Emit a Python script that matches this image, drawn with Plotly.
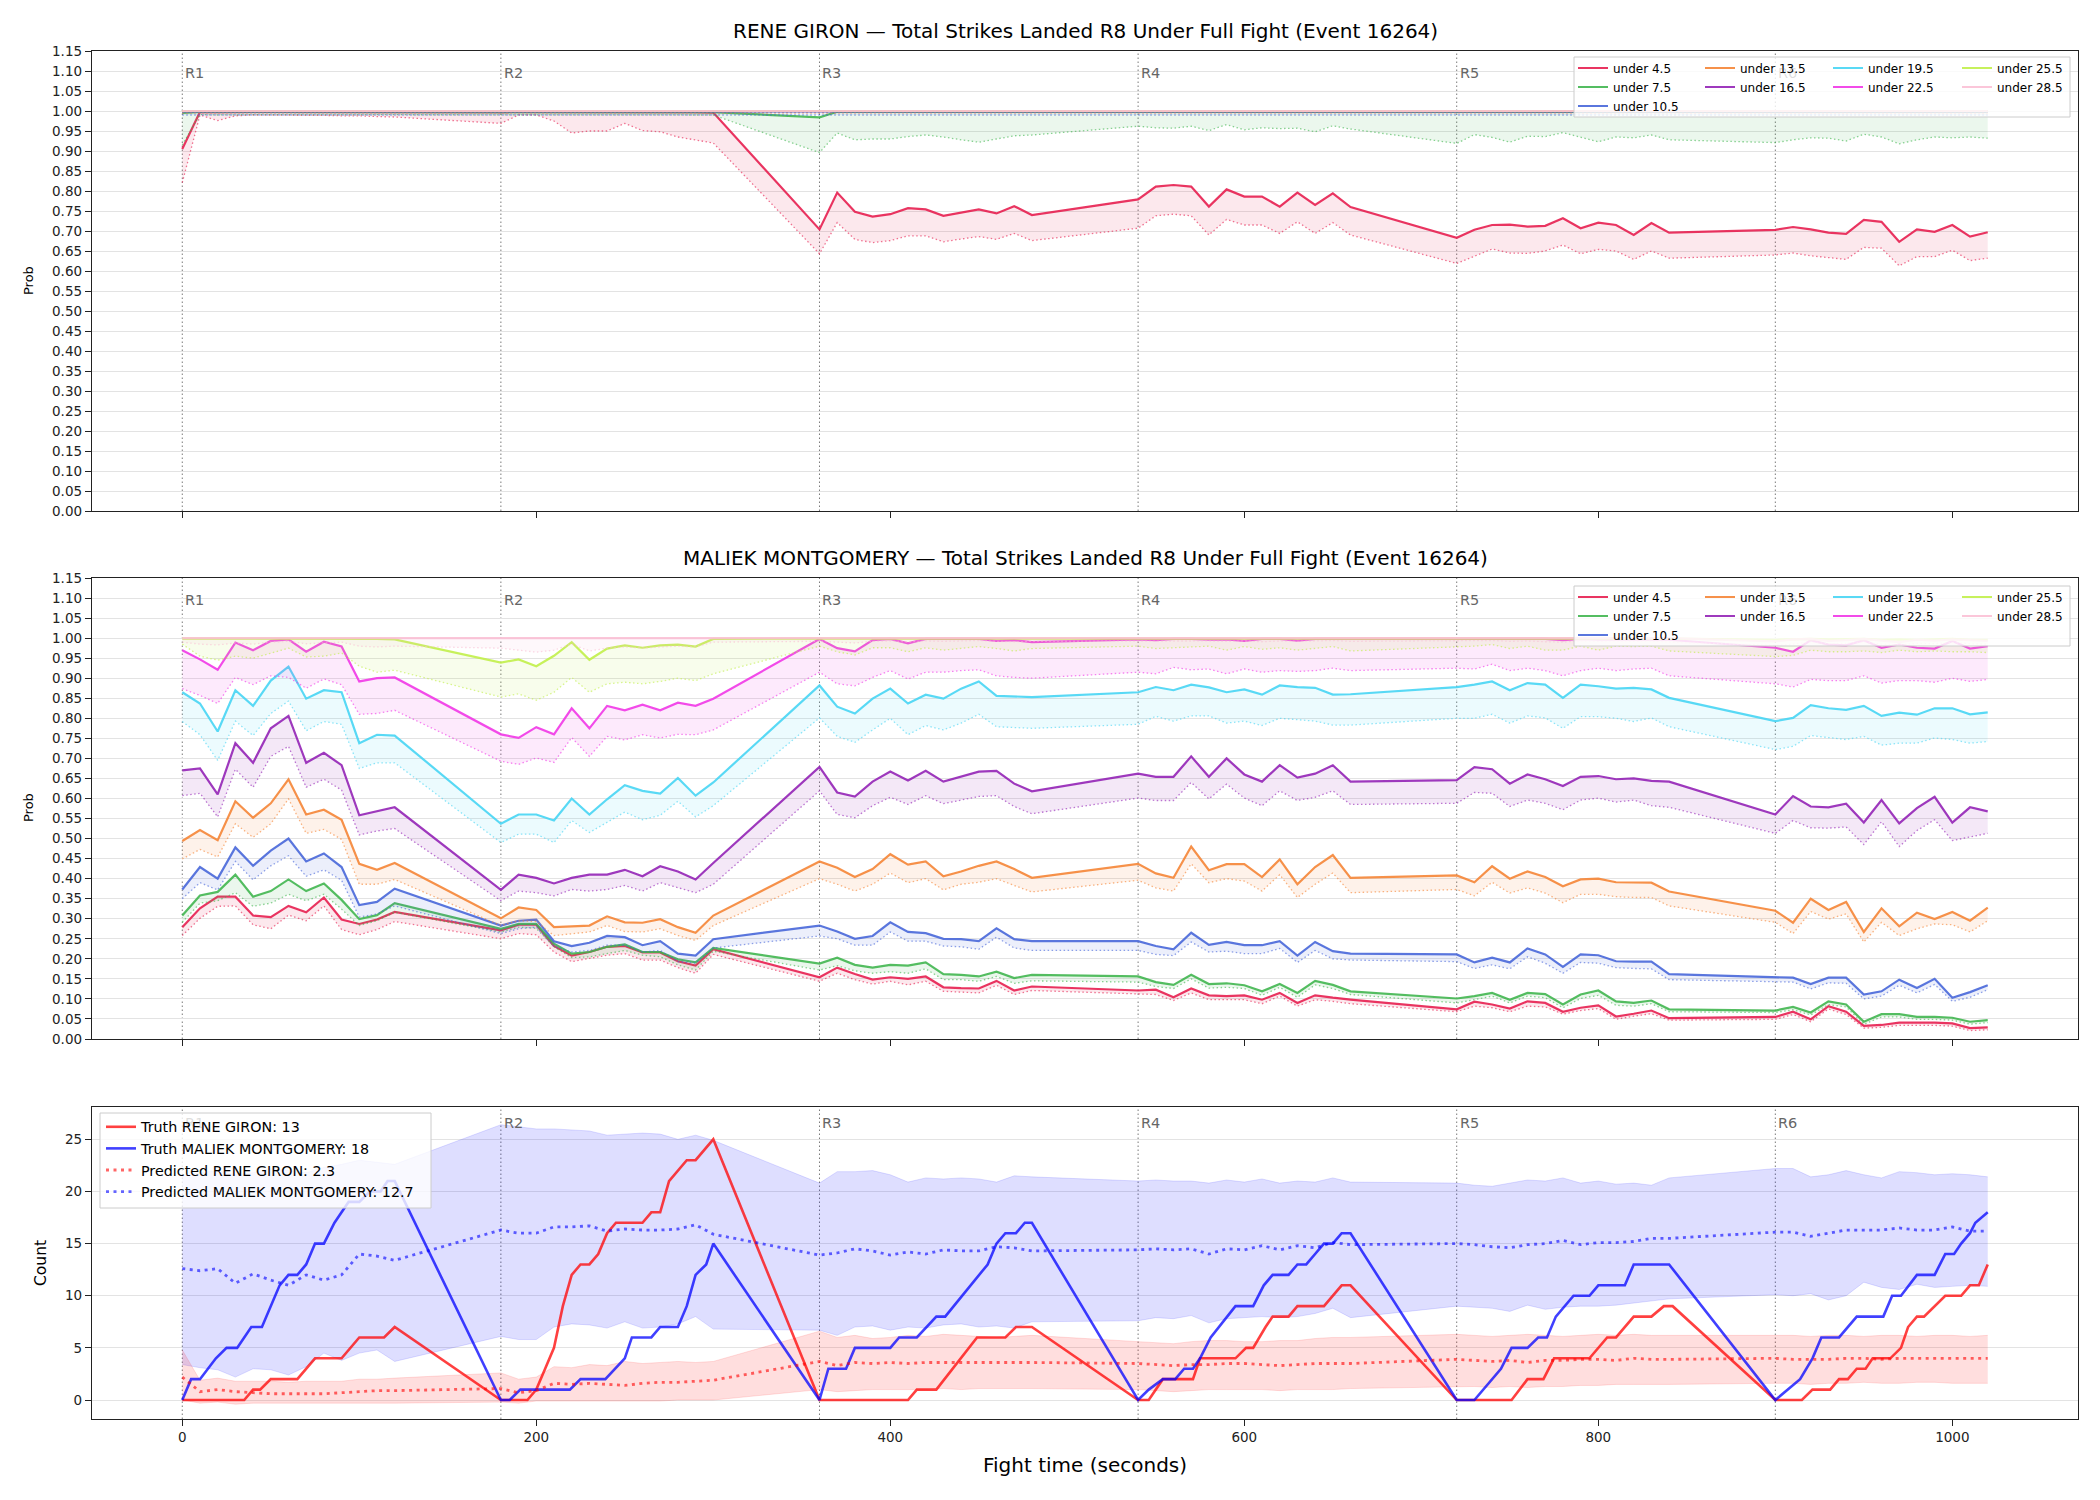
import plotly.graph_objects as go
from plotly.subplots import make_subplots

# ------------------------------------------------------------------ data
TIME = [0, 10, 20, 30, 40, 50, 60, 70, 80, 90, 100, 110, 120,
        180, 190, 200, 210, 220, 230, 240, 250, 260, 270, 280, 290, 300,
        360, 370, 380, 390, 400, 410, 420, 430, 440, 450, 460, 470, 480,
        540, 550, 560, 570, 580, 590, 600, 610, 620, 630, 640, 650, 660,
        720, 730, 740, 750, 760, 770, 780, 790, 800, 810, 820, 830, 840,
        900, 910, 920, 930, 940, 950, 960, 970, 980, 990, 1000, 1010, 1020]
TIME_COARSE = [0, 120, 180, 300, 360, 480, 540, 660, 720, 840, 900, 1020]

ROUND_STARTS = [0, 180, 360, 540, 720, 900]
ROUND_LABELS = ["R1", "R2", "R3", "R4", "R5", "R6"]
LINE_LABELS = ["under 4.5", "under 7.5", "under 10.5", "under 13.5", "under 16.5",
               "under 19.5", "under 22.5", "under 25.5", "under 28.5"]
PROB_TICKS = [0.00, 0.05, 0.10, 0.15, 0.20, 0.25, 0.30, 0.35, 0.40, 0.45, 0.50, 0.55,
              0.60, 0.65, 0.70, 0.75, 0.80, 0.85, 0.90, 0.95, 1.00, 1.05, 1.10, 1.15]
COUNT_TICKS = [0, 5, 10, 15, 20, 25]
X_TICKS = [0, 200, 400, 600, 800, 1000]

# ---- RENE GIRON (top panel): model prob (solid) and lower (dotted)
giron_u45 = [0.905, 0.998, 0.997, 0.998, 0.998, 0.998, 0.998, 0.998, 0.998, 0.998, 0.997, 0.997, 0.997,
             0.997, 0.997, 0.997, 0.997, 0.997, 0.997, 0.997, 0.997, 0.997, 0.997, 0.997, 0.997, 0.996,
             0.704, 0.796, 0.748, 0.736, 0.742, 0.757, 0.754, 0.738, 0.746, 0.754, 0.744, 0.762, 0.740,
             0.779, 0.811, 0.815, 0.811, 0.761, 0.804, 0.786, 0.786, 0.761, 0.796, 0.765, 0.794, 0.760,
             0.683, 0.703, 0.715, 0.716, 0.711, 0.713, 0.732, 0.707, 0.721, 0.715, 0.690, 0.720, 0.696,
             0.703, 0.710, 0.704, 0.696, 0.693, 0.728, 0.723, 0.673, 0.704, 0.698, 0.715, 0.686, 0.697]
giron_u45_lo = [0.821, 0.990, 0.976, 0.988, 0.990, 0.990, 0.990, 0.990, 0.989, 0.988, 0.988, 0.986, 0.985,
                0.969, 0.990, 0.990, 0.975, 0.945, 0.950, 0.950, 0.969, 0.951, 0.948, 0.935, 0.928, 0.920,
                0.643, 0.721, 0.679, 0.671, 0.676, 0.688, 0.688, 0.673, 0.680, 0.686, 0.679, 0.694, 0.676,
                0.707, 0.738, 0.742, 0.738, 0.690, 0.729, 0.715, 0.715, 0.694, 0.723, 0.694, 0.721, 0.690,
                0.619, 0.638, 0.655, 0.645, 0.644, 0.650, 0.665, 0.643, 0.654, 0.650, 0.629, 0.650, 0.632,
                0.640, 0.645, 0.638, 0.634, 0.629, 0.659, 0.657, 0.613, 0.636, 0.636, 0.652, 0.626, 0.632]
giron_u75 = [0.995, 0.998, 0.998, 0.998, 0.998, 0.998, 0.998, 0.998, 0.998, 0.998, 0.998, 0.998, 0.998,
             0.998, 0.998, 0.998, 0.998, 0.998, 0.998, 0.998, 0.998, 0.998, 0.998, 0.998, 0.998, 0.997,
             0.984, 0.998, 0.998, 0.998, 0.998, 0.998, 0.998, 0.998, 0.998, 0.998, 0.998, 0.998, 0.998,
             0.998, 0.998, 0.998, 0.998, 0.998, 0.998, 0.998, 0.998, 0.998, 0.998, 0.998, 0.998, 0.998,
             0.998, 0.998, 0.998, 0.998, 0.998, 0.998, 0.998, 0.998, 0.998, 0.998, 0.998, 0.998, 0.998,
             0.998, 0.998, 0.998, 0.998, 0.998, 0.998, 0.998, 0.998, 0.998, 0.998, 0.998, 0.998, 0.998]
giron_u75_lo = [0.915, 0.991, 0.990, 0.991, 0.991, 0.991, 0.991, 0.991, 0.991, 0.990, 0.990, 0.990, 0.990,
                0.990, 0.991, 0.991, 0.990, 0.990, 0.990, 0.990, 0.990, 0.990, 0.990, 0.990, 0.990, 0.990,
                0.896, 0.945, 0.928, 0.930, 0.930, 0.936, 0.940, 0.935, 0.928, 0.922, 0.930, 0.938, 0.940,
                0.962, 0.958, 0.957, 0.962, 0.951, 0.966, 0.953, 0.958, 0.956, 0.957, 0.948, 0.963, 0.955,
                0.919, 0.941, 0.934, 0.922, 0.937, 0.936, 0.946, 0.935, 0.923, 0.935, 0.933, 0.940, 0.928,
                0.921, 0.928, 0.933, 0.932, 0.925, 0.942, 0.935, 0.918, 0.928, 0.935, 0.933, 0.935, 0.932]
giron_u105 = [0.999, 0.999, 0.999, 0.999, 0.999, 0.999, 0.999, 0.999, 0.999, 0.999, 0.999, 0.999]
giron_u105_lo = [0.990, 0.990, 0.989, 0.990, 0.990, 0.990, 0.990, 0.990, 0.989, 0.990, 0.990, 0.990]
giron_u135 = [1.000, 1.000, 1.000, 1.000, 1.000, 1.000, 1.000, 1.000, 1.000, 1.000, 1.000, 1.000]
giron_u135_lo = [0.995, 0.995, 0.995, 0.995, 0.995, 0.995, 0.995, 0.995, 0.995, 0.995, 0.995, 0.995]
giron_u165 = [1.000, 1.000, 1.000, 1.000, 1.000, 1.000, 1.000, 1.000, 1.000, 1.000, 1.000, 1.000]
giron_u165_lo = [0.997, 0.997, 0.997, 0.997, 0.997, 0.997, 0.997, 0.997, 0.997, 0.997, 0.997, 0.997]
giron_u195 = [1.000, 1.000, 1.000, 1.000, 1.000, 1.000, 1.000, 1.000, 1.000, 1.000, 1.000, 1.000]
giron_u195_lo = [0.998, 0.998, 0.998, 0.998, 0.998, 0.998, 0.998, 0.998, 0.998, 0.998, 0.998, 0.998]
giron_u225 = [1.000, 1.000, 1.000, 1.000, 1.000, 1.000, 1.000, 1.000, 1.000, 1.000, 1.000, 1.000]
giron_u225_lo = [0.999, 0.999, 0.999, 0.999, 0.999, 0.999, 0.999, 0.999, 0.999, 0.999, 0.999, 0.999]
giron_u255 = [1.000, 1.000, 1.000, 1.000, 1.000, 1.000, 1.000, 1.000, 1.000, 1.000, 1.000, 1.000]
giron_u255_lo = [0.999, 0.999, 0.999, 0.999, 0.999, 0.999, 0.999, 0.999, 0.999, 0.999, 0.999, 0.999]
giron_u285 = [1.000, 1.000, 1.000, 1.000, 1.000, 1.000, 1.000, 1.000, 1.000, 1.000, 1.000, 1.000]
giron_u285_lo = [1.000, 1.000, 1.000, 1.000, 1.000, 1.000, 1.000, 1.000, 1.000, 1.000, 1.000, 1.000]

# ---- MALIEK MONTGOMERY (middle panel)
mont_u45 = [0.279, 0.326, 0.355, 0.355, 0.308, 0.304, 0.332, 0.316, 0.353, 0.298, 0.287, 0.298, 0.317,
            0.271, 0.285, 0.285, 0.232, 0.208, 0.217, 0.230, 0.232, 0.216, 0.216, 0.194, 0.183, 0.224,
            0.154, 0.178, 0.162, 0.148, 0.154, 0.150, 0.156, 0.129, 0.127, 0.126, 0.145, 0.121, 0.131,
            0.121, 0.123, 0.104, 0.126, 0.109, 0.107, 0.109, 0.098, 0.115, 0.090, 0.109, 0.103, 0.098,
            0.074, 0.093, 0.086, 0.076, 0.094, 0.090, 0.068, 0.078, 0.084, 0.056, 0.063, 0.071, 0.052,
            0.055, 0.068, 0.049, 0.082, 0.068, 0.033, 0.035, 0.041, 0.041, 0.041, 0.039, 0.027, 0.029]
mont_u45_lo = [0.258, 0.301, 0.331, 0.332, 0.285, 0.275, 0.309, 0.295, 0.332, 0.273, 0.260, 0.273, 0.293,
               0.250, 0.263, 0.260, 0.217, 0.193, 0.201, 0.209, 0.213, 0.197, 0.197, 0.178, 0.164, 0.211,
               0.144, 0.164, 0.148, 0.137, 0.144, 0.135, 0.144, 0.119, 0.117, 0.115, 0.134, 0.111, 0.121,
               0.111, 0.111, 0.096, 0.115, 0.098, 0.098, 0.098, 0.088, 0.107, 0.082, 0.098, 0.094, 0.088,
               0.068, 0.082, 0.078, 0.068, 0.082, 0.080, 0.062, 0.071, 0.076, 0.049, 0.057, 0.063, 0.047,
               0.049, 0.061, 0.043, 0.075, 0.061, 0.027, 0.029, 0.034, 0.034, 0.034, 0.032, 0.021, 0.023]
mont_u75 = [0.308, 0.358, 0.367, 0.410, 0.355, 0.369, 0.398, 0.369, 0.388, 0.347, 0.299, 0.309, 0.339,
            0.275, 0.287, 0.287, 0.238, 0.213, 0.217, 0.230, 0.236, 0.217, 0.217, 0.199, 0.191, 0.227,
            0.188, 0.203, 0.185, 0.178, 0.185, 0.183, 0.191, 0.162, 0.160, 0.156, 0.168, 0.152, 0.160,
            0.156, 0.142, 0.135, 0.160, 0.137, 0.139, 0.134, 0.119, 0.137, 0.115, 0.145, 0.135, 0.119,
            0.101, 0.107, 0.115, 0.098, 0.115, 0.112, 0.086, 0.111, 0.121, 0.094, 0.090, 0.096, 0.074,
            0.071, 0.080, 0.066, 0.094, 0.086, 0.043, 0.062, 0.062, 0.055, 0.055, 0.053, 0.043, 0.047]
mont_u75_lo = [0.291, 0.339, 0.345, 0.365, 0.331, 0.339, 0.361, 0.345, 0.361, 0.324, 0.283, 0.295, 0.316,
               0.267, 0.279, 0.276, 0.230, 0.203, 0.205, 0.213, 0.221, 0.209, 0.205, 0.185, 0.172, 0.219,
               0.172, 0.183, 0.170, 0.164, 0.168, 0.164, 0.175, 0.148, 0.148, 0.144, 0.156, 0.139, 0.145,
               0.142, 0.131, 0.126, 0.150, 0.127, 0.129, 0.126, 0.109, 0.129, 0.104, 0.135, 0.126, 0.111,
               0.090, 0.098, 0.107, 0.090, 0.107, 0.103, 0.078, 0.101, 0.109, 0.084, 0.082, 0.088, 0.068,
               0.066, 0.073, 0.060, 0.086, 0.080, 0.037, 0.055, 0.055, 0.049, 0.049, 0.047, 0.037, 0.041]
mont_u105 = [0.373, 0.429, 0.400, 0.478, 0.432, 0.470, 0.500, 0.443, 0.463, 0.429, 0.334, 0.342, 0.375,
             0.283, 0.295, 0.298, 0.244, 0.232, 0.240, 0.257, 0.254, 0.234, 0.244, 0.213, 0.208, 0.249,
             0.283, 0.268, 0.250, 0.257, 0.291, 0.267, 0.264, 0.250, 0.249, 0.244, 0.276, 0.249, 0.244,
             0.244, 0.232, 0.224, 0.265, 0.235, 0.242, 0.234, 0.234, 0.244, 0.208, 0.242, 0.219, 0.213,
             0.211, 0.191, 0.203, 0.191, 0.226, 0.211, 0.180, 0.211, 0.209, 0.194, 0.193, 0.193, 0.162,
             0.153, 0.153, 0.137, 0.153, 0.153, 0.111, 0.119, 0.148, 0.127, 0.150, 0.103, 0.117, 0.134]
mont_u105_lo = [0.350, 0.390, 0.372, 0.443, 0.397, 0.432, 0.457, 0.406, 0.422, 0.396, 0.304, 0.312, 0.332,
                0.263, 0.275, 0.279, 0.230, 0.217, 0.221, 0.234, 0.234, 0.217, 0.221, 0.193, 0.189, 0.227,
                0.257, 0.250, 0.234, 0.234, 0.267, 0.244, 0.244, 0.232, 0.230, 0.224, 0.254, 0.227, 0.221,
                0.221, 0.211, 0.208, 0.242, 0.217, 0.219, 0.213, 0.213, 0.226, 0.191, 0.221, 0.200, 0.197,
                0.193, 0.176, 0.185, 0.175, 0.205, 0.189, 0.164, 0.191, 0.189, 0.178, 0.176, 0.175, 0.148,
                0.144, 0.142, 0.125, 0.140, 0.139, 0.100, 0.107, 0.134, 0.115, 0.136, 0.094, 0.104, 0.123]
mont_u135 = [0.494, 0.521, 0.496, 0.593, 0.552, 0.588, 0.648, 0.560, 0.572, 0.547, 0.437, 0.422, 0.439,
             0.301, 0.328, 0.322, 0.279, 0.281, 0.283, 0.306, 0.291, 0.290, 0.299, 0.279, 0.265, 0.308,
             0.443, 0.427, 0.404, 0.424, 0.461, 0.435, 0.443, 0.406, 0.418, 0.432, 0.443, 0.424, 0.402,
             0.437, 0.413, 0.402, 0.480, 0.421, 0.436, 0.436, 0.404, 0.448, 0.386, 0.429, 0.459, 0.402,
             0.408, 0.391, 0.431, 0.400, 0.418, 0.404, 0.381, 0.398, 0.400, 0.391, 0.390, 0.390, 0.368,
             0.320, 0.290, 0.350, 0.322, 0.342, 0.267, 0.326, 0.281, 0.315, 0.299, 0.317, 0.295, 0.328]
mont_u135_lo = [0.449, 0.473, 0.454, 0.537, 0.503, 0.537, 0.599, 0.513, 0.523, 0.498, 0.386, 0.386, 0.398,
                0.283, 0.295, 0.293, 0.258, 0.263, 0.267, 0.283, 0.268, 0.267, 0.275, 0.258, 0.246, 0.283,
                0.400, 0.386, 0.369, 0.386, 0.414, 0.390, 0.400, 0.372, 0.386, 0.391, 0.400, 0.383, 0.367,
                0.396, 0.377, 0.369, 0.437, 0.390, 0.400, 0.394, 0.369, 0.410, 0.353, 0.386, 0.414, 0.365,
                0.373, 0.357, 0.391, 0.364, 0.377, 0.364, 0.340, 0.361, 0.361, 0.355, 0.353, 0.353, 0.332,
                0.291, 0.263, 0.318, 0.299, 0.312, 0.242, 0.291, 0.258, 0.275, 0.287, 0.285, 0.267, 0.295]
mont_u165 = [0.670, 0.675, 0.610, 0.738, 0.689, 0.775, 0.806, 0.689, 0.714, 0.683, 0.558, 0.568, 0.578,
             0.372, 0.410, 0.402, 0.388, 0.402, 0.410, 0.410, 0.422, 0.406, 0.431, 0.418, 0.398, 0.439,
             0.679, 0.615, 0.605, 0.642, 0.667, 0.645, 0.669, 0.642, 0.654, 0.667, 0.669, 0.637, 0.618,
             0.662, 0.654, 0.654, 0.705, 0.654, 0.700, 0.660, 0.642, 0.683, 0.652, 0.662, 0.683, 0.642,
             0.646, 0.678, 0.673, 0.637, 0.660, 0.648, 0.631, 0.654, 0.656, 0.648, 0.650, 0.644, 0.642,
             0.560, 0.606, 0.580, 0.578, 0.587, 0.540, 0.596, 0.538, 0.576, 0.604, 0.540, 0.578, 0.568]
mont_u165_lo = [0.607, 0.613, 0.554, 0.673, 0.628, 0.705, 0.730, 0.628, 0.648, 0.621, 0.509, 0.519, 0.525,
                0.345, 0.369, 0.365, 0.357, 0.373, 0.369, 0.373, 0.383, 0.369, 0.390, 0.377, 0.365, 0.386,
                0.619, 0.560, 0.552, 0.582, 0.603, 0.585, 0.607, 0.587, 0.596, 0.605, 0.607, 0.580, 0.562,
                0.601, 0.595, 0.595, 0.640, 0.599, 0.636, 0.601, 0.582, 0.619, 0.595, 0.603, 0.619, 0.585,
                0.588, 0.615, 0.613, 0.580, 0.596, 0.588, 0.572, 0.596, 0.601, 0.591, 0.596, 0.582, 0.578,
                0.513, 0.545, 0.527, 0.526, 0.529, 0.485, 0.542, 0.480, 0.520, 0.547, 0.495, 0.504, 0.513]
mont_u195 = [0.865, 0.837, 0.767, 0.870, 0.831, 0.894, 0.929, 0.849, 0.870, 0.865, 0.738, 0.759, 0.757,
             0.537, 0.560, 0.560, 0.545, 0.600, 0.560, 0.598, 0.633, 0.619, 0.612, 0.651, 0.607, 0.640,
             0.882, 0.829, 0.812, 0.849, 0.874, 0.837, 0.859, 0.849, 0.874, 0.892, 0.856, 0.855, 0.853,
             0.865, 0.878, 0.870, 0.884, 0.877, 0.865, 0.872, 0.859, 0.882, 0.878, 0.876, 0.859, 0.860,
             0.878, 0.884, 0.892, 0.870, 0.888, 0.884, 0.851, 0.884, 0.880, 0.874, 0.876, 0.872, 0.851,
             0.793, 0.801, 0.833, 0.825, 0.821, 0.831, 0.806, 0.814, 0.809, 0.825, 0.825, 0.810, 0.815]
mont_u195_lo = [0.792, 0.759, 0.695, 0.793, 0.757, 0.812, 0.843, 0.769, 0.792, 0.785, 0.675, 0.689, 0.689,
                0.490, 0.511, 0.511, 0.490, 0.545, 0.515, 0.541, 0.566, 0.547, 0.558, 0.593, 0.554, 0.582,
                0.801, 0.755, 0.740, 0.771, 0.800, 0.759, 0.782, 0.771, 0.788, 0.810, 0.779, 0.777, 0.775,
                0.785, 0.805, 0.793, 0.806, 0.806, 0.788, 0.793, 0.782, 0.800, 0.796, 0.793, 0.783, 0.783,
                0.800, 0.800, 0.810, 0.788, 0.806, 0.801, 0.775, 0.804, 0.804, 0.800, 0.792, 0.801, 0.779,
                0.722, 0.730, 0.757, 0.752, 0.747, 0.755, 0.733, 0.738, 0.738, 0.751, 0.747, 0.738, 0.742]
mont_u225 = [0.970, 0.947, 0.921, 0.989, 0.970, 0.993, 0.997, 0.966, 0.991, 0.979, 0.892, 0.900, 0.902,
             0.760, 0.751, 0.778, 0.760, 0.825, 0.775, 0.831, 0.820, 0.834, 0.820, 0.839, 0.831, 0.849,
             0.998, 0.975, 0.967, 0.995, 0.998, 0.987, 0.998, 0.998, 0.998, 0.998, 0.993, 0.995, 0.990,
             0.997, 0.995, 0.998, 0.998, 0.996, 0.997, 0.993, 0.998, 0.998, 0.994, 0.998, 0.998, 0.998,
             0.998, 0.998, 0.997, 0.998, 0.998, 0.998, 0.995, 0.998, 0.997, 0.997, 0.997, 0.997, 0.996,
             0.976, 0.966, 0.995, 0.984, 0.982, 0.995, 0.976, 0.984, 0.976, 0.974, 0.993, 0.974, 0.980]
mont_u225_lo = [0.874, 0.857, 0.837, 0.902, 0.884, 0.906, 0.902, 0.875, 0.898, 0.884, 0.810, 0.812, 0.820,
                0.693, 0.685, 0.701, 0.690, 0.752, 0.705, 0.755, 0.746, 0.759, 0.751, 0.760, 0.759, 0.771,
                0.915, 0.886, 0.881, 0.902, 0.919, 0.898, 0.915, 0.915, 0.919, 0.921, 0.906, 0.902, 0.900,
                0.915, 0.911, 0.927, 0.921, 0.923, 0.911, 0.923, 0.915, 0.919, 0.917, 0.919, 0.925, 0.919,
                0.925, 0.923, 0.935, 0.919, 0.925, 0.919, 0.906, 0.919, 0.925, 0.919, 0.923, 0.925, 0.906,
                0.886, 0.878, 0.897, 0.894, 0.894, 0.906, 0.888, 0.894, 0.894, 0.890, 0.900, 0.892, 0.897]
mont_u255 = [0.999, 0.999, 0.999, 0.999, 0.999, 0.999, 0.999, 0.999, 0.999, 0.999, 0.999, 0.998, 0.997,
             0.939, 0.947, 0.930, 0.956, 0.990, 0.946, 0.974, 0.982, 0.976, 0.982, 0.984, 0.979, 0.998,
             0.999, 0.999, 0.999, 0.999, 0.999, 0.999, 0.999, 0.999, 0.999, 0.999, 0.999, 0.999, 0.999,
             0.999, 0.999, 0.999, 0.999, 0.999, 0.999, 0.999, 0.999, 0.999, 0.999, 0.999, 0.999, 0.999,
             0.999, 0.999, 0.999, 0.999, 0.999, 0.999, 0.999, 0.999, 0.999, 0.999, 0.999, 0.999, 0.999,
             0.996, 0.997, 0.998, 0.997, 0.997, 0.998, 0.996, 0.997, 0.996, 0.997, 0.998, 0.996, 0.996]
mont_u255_lo = [0.985, 0.955, 0.945, 0.955, 0.950, 0.963, 0.975, 0.953, 0.955, 0.963, 0.930, 0.915, 0.920,
                0.853, 0.861, 0.845, 0.865, 0.902, 0.865, 0.886, 0.890, 0.886, 0.892, 0.900, 0.894, 0.911,
                0.980, 0.966, 0.958, 0.976, 0.976, 0.966, 0.976, 0.970, 0.974, 0.979, 0.974, 0.968, 0.974,
                0.980, 0.974, 0.976, 0.979, 0.980, 0.970, 0.979, 0.972, 0.976, 0.970, 0.974, 0.979, 0.968,
                0.979, 0.980, 0.984, 0.974, 0.980, 0.970, 0.970, 0.980, 0.970, 0.980, 0.979, 0.980, 0.968,
                0.954, 0.957, 0.970, 0.966, 0.966, 0.968, 0.964, 0.970, 0.966, 0.968, 0.966, 0.966, 0.964]
mont_u285 = [1.000, 1.000, 1.000, 1.000, 1.000, 1.000, 1.000, 1.000, 1.000, 1.000, 1.000, 1.000, 1.000,
             1.000, 1.000, 1.000, 1.000, 1.000, 1.000, 1.000, 1.000, 1.000, 1.000, 1.000, 1.000, 1.000,
             1.000, 1.000, 1.000, 1.000, 1.000, 1.000, 1.000, 1.000, 1.000, 1.000, 1.000, 1.000, 1.000,
             1.000, 1.000, 1.000, 1.000, 1.000, 1.000, 1.000, 1.000, 1.000, 1.000, 1.000, 1.000, 1.000,
             1.000, 1.000, 1.000, 1.000, 1.000, 1.000, 1.000, 1.000, 1.000, 1.000, 1.000, 1.000, 1.000,
             0.992, 0.997, 0.998, 0.993, 0.995, 0.998, 0.994, 0.990, 0.996, 0.994, 0.997, 0.995, 0.993]
mont_u285_lo = [0.990, 0.985, 0.983, 0.988, 0.985, 0.990, 0.992, 0.986, 0.988, 0.990, 0.980, 0.978, 0.980,
                0.975, 0.970, 0.965, 0.970, 0.985, 0.968, 0.975, 0.978, 0.975, 0.978, 0.980, 0.978, 0.990,
                0.992, 0.990, 0.988, 0.992, 0.993, 0.990, 0.993, 0.992, 0.993, 0.994, 0.992, 0.991, 0.992,
                0.993, 0.992, 0.993, 0.994, 0.993, 0.992, 0.993, 0.991, 0.993, 0.992, 0.993, 0.994, 0.992,
                0.993, 0.992, 0.994, 0.992, 0.993, 0.991, 0.990, 0.993, 0.992, 0.993, 0.992, 0.993, 0.990,
                0.982, 0.985, 0.990, 0.986, 0.987, 0.990, 0.985, 0.983, 0.987, 0.986, 0.989, 0.986, 0.985]

# ---- bottom panel: truth counts (breakpoints) and predictions
truth_giron_t = [0, 35, 40, 44, 50, 65, 75, 90, 100, 114, 120,
                 180, 195, 200, 205, 210, 215, 220, 225, 230, 235, 240, 245, 260, 265, 270, 275, 280, 285, 290, 300,
                 360, 410, 415, 426, 449, 465, 471, 480,
                 540, 546, 554, 571, 575, 595, 601, 605, 612, 616, 625, 630, 645, 655, 660,
                 720, 751, 760, 769, 775, 795, 805, 810, 820, 830, 837, 842,
                 900, 915, 921, 931, 936, 941, 946, 951, 955, 965, 971, 975, 980, 984, 990, 996, 1005, 1010, 1015, 1020]
truth_giron_v = [0, 0, 1, 1, 2, 2, 4, 4, 6, 6, 7,
                 0, 0, 1, 3, 5, 9, 12, 13, 13, 14, 16, 17, 17, 18, 18, 21, 22, 23, 23, 25,
                 0, 0, 1, 1, 6, 6, 7, 7,
                 0, 0, 2, 2, 4, 4, 5, 5, 7, 8, 8, 9, 9, 11, 11,
                 0, 0, 2, 2, 4, 4, 6, 6, 8, 8, 9, 9,
                 0, 0, 1, 1, 2, 2, 3, 3, 4, 4, 5, 7, 8, 8, 9, 10, 10, 11, 11, 13]
truth_mont_t = [0, 5, 10, 19, 25, 31, 39, 45, 55, 60, 65, 70, 75, 80, 86, 94, 100, 106, 112, 116, 120,
                180, 185, 191, 219, 225, 239, 250, 254, 265, 270, 280, 285, 290, 296, 300,
                360, 365, 375, 380, 400, 405, 415, 426, 431, 455, 460, 465, 471, 476, 480,
                540, 546, 554, 561, 566, 571, 575, 581, 595, 605, 611, 616, 625, 630, 635, 640, 645, 650, 655, 660,
                720, 730, 745, 751, 760, 766, 771, 776, 786, 795, 800, 815, 820, 840,
                900, 914, 921, 926, 936, 946, 961, 966, 971, 980, 990, 996, 1001, 1005, 1010, 1013, 1020]
truth_mont_v = [0, 2, 2, 4, 5, 5, 7, 7, 11, 12, 12, 13, 15, 15, 17, 19, 19, 20, 20, 21, 21,
                0, 0, 1, 1, 2, 2, 4, 6, 6, 7, 7, 9, 12, 13, 15,
                0, 3, 3, 5, 5, 6, 6, 8, 8, 13, 15, 16, 16, 17, 17,
                0, 1, 2, 2, 3, 3, 4, 6, 9, 9, 11, 12, 12, 13, 13, 14, 15, 15, 16, 16,
                0, 0, 3, 5, 5, 6, 6, 8, 10, 10, 11, 11, 13, 13,
                0, 2, 4, 6, 6, 8, 8, 10, 10, 12, 12, 14, 14, 15, 16, 17, 18]

pred_giron = [2.2, 0.8, 1.0, 0.8, 0.7, 0.6, 0.6, 0.6, 0.6, 0.7, 0.8, 0.9, 0.9,
              1.1, 0.7, 0.9, 1.6, 1.5, 1.6, 1.5, 1.4, 1.6, 1.7, 1.7, 1.8, 1.9,
              3.7, 3.3, 3.6, 3.5, 3.6, 3.5, 3.6, 3.6, 3.6, 3.6, 3.6, 3.6, 3.6,
              3.5, 3.4, 3.3, 3.4, 3.4, 3.5, 3.5, 3.4, 3.3, 3.4, 3.5, 3.5, 3.5,
              3.9, 3.8, 3.7, 3.8, 3.6, 3.8, 3.8, 3.9, 3.9, 3.8, 4.0, 3.9, 3.9,
              4.0, 3.9, 3.9, 3.9, 4.0, 4.0, 3.9, 4.0, 4.0, 4.0, 4.0, 4.0, 4.0]
pred_giron_hi = [4.8, 1.9, 2.1, 1.8, 1.8, 1.8, 1.7, 1.8, 1.8, 1.8, 2.0, 2.0, 2.1,
                 2.6, 2.0, 2.2, 3.2, 3.1, 3.4, 3.3, 3.7, 3.5, 3.6, 3.7, 3.6, 3.7,
                 6.6, 6.0, 6.2, 5.9, 6.0, 6.2, 6.1, 6.3, 6.2, 6.1, 6.0, 6.1, 6.2,
                 5.6, 5.5, 5.4, 5.6, 5.7, 5.7, 5.6, 5.6, 5.7, 5.7, 5.9, 6.0, 6.0,
                 6.3, 6.2, 6.1, 6.2, 6.3, 6.2, 6.1, 6.2, 6.3, 6.2, 6.3, 6.2, 6.2,
                 6.2, 6.2, 6.1, 6.2, 6.2, 6.1, 6.2, 6.2, 6.1, 6.2, 6.2, 6.1, 6.2]
pred_giron_lo = [0.0, -0.3, -0.2, -0.4, -0.3, -0.3, -0.3, -0.3, -0.3, -0.3, -0.3, -0.3, -0.3,
                 -0.2, -0.3, -0.1, -0.1, -0.1, -0.1, -0.1, -0.1, -0.1, -0.1, 0.0, 0.0, 0.0,
                 1.0, 0.8, 0.9, 1.0, 1.0, 1.0, 1.0, 1.1, 1.0, 1.1, 1.1, 1.1, 1.1,
                 1.0, 0.9, 0.8, 0.9, 1.0, 1.0, 1.0, 1.0, 0.9, 1.0, 1.0, 1.0, 1.1,
                 1.3, 1.3, 1.2, 1.3, 1.2, 1.3, 1.3, 1.4, 1.4, 1.5, 1.5, 1.5, 1.5,
                 1.6, 1.6, 1.5, 1.6, 1.6, 1.7, 1.6, 1.6, 1.7, 1.7, 1.6, 1.6, 1.6]
pred_mont = [12.6, 12.4, 12.6, 11.2, 12.1, 11.5, 11.0, 12.0, 11.5, 12.0, 14.0, 13.8, 13.4,
             16.3, 16.0, 16.0, 16.6, 16.6, 16.7, 16.2, 16.4, 16.3, 16.3, 16.4, 16.8, 15.9,
             13.9, 14.1, 14.5, 14.3, 13.9, 14.2, 14.0, 14.4, 14.3, 14.3, 14.7, 14.6, 14.3,
             14.4, 14.5, 14.4, 14.5, 14.0, 14.5, 14.4, 14.8, 14.4, 14.8, 14.6, 15.1, 14.9,
             15.0, 14.9, 14.7, 14.6, 14.9, 15.0, 15.3, 14.9, 15.1, 15.1, 15.2, 15.5, 15.5,
             16.1, 16.1, 15.7, 16.0, 16.3, 16.3, 16.3, 16.5, 16.3, 16.3, 16.6, 16.2, 16.2]
pred_mont_hi = [21.5, 21.8, 22.0, 21.6, 21.8, 22.2, 22.0, 21.8, 22.3, 22.6, 23.0, 22.8, 22.6,
                26.4, 26.2, 26.0, 26.0, 25.9, 25.8, 25.4, 25.5, 25.6, 25.5, 25.0, 25.4, 24.9,
                20.8, 21.9, 21.9, 22.0, 21.6, 20.9, 21.3, 21.2, 21.3, 21.2, 20.9, 21.5, 21.4,
                21.0, 21.1, 21.0, 21.0, 20.8, 21.1, 20.9, 21.2, 20.8, 21.0, 20.9, 21.3, 20.9,
                20.8, 20.6, 20.5, 20.8, 21.1, 21.0, 21.3, 20.8, 21.0, 20.7, 20.8, 20.6, 21.3,
                22.2, 22.2, 21.4, 21.6, 22.0, 21.6, 21.3, 21.9, 21.8, 21.6, 21.7, 21.6, 21.4]
pred_mont_lo = [3.4, 3.1, 2.9, 2.2, 3.0, 2.9, 2.4, 3.2, 4.5, 3.8, 4.5, 4.8, 3.7,
                6.1, 5.8, 5.8, 7.0, 7.3, 7.2, 6.9, 7.5, 6.9, 7.0, 7.3, 8.0, 6.8,
                6.7, 6.2, 7.0, 7.1, 6.7, 7.0, 6.9, 7.2, 7.3, 7.0, 7.1, 6.9, 7.5,
                7.6, 7.9, 7.8, 8.1, 7.4, 7.8, 7.9, 8.0, 7.9, 8.0, 8.3, 8.8, 7.9,
                9.0, 8.9, 8.8, 8.5, 9.1, 8.7, 8.9, 9.0, 9.0, 9.1, 9.3, 9.5, 9.7,
                10.1, 10.0, 10.2, 9.6, 10.0, 11.3, 10.8, 10.6, 11.1, 10.8, 10.9, 11.0, 10.9]

# ------------------------------------------------------------------ styling
COLORS = [(230, 25, 75), (60, 180, 75), (67, 99, 216), (245, 130, 49), (145, 30, 180),
          (66, 212, 244), (240, 50, 230), (191, 239, 69), (250, 190, 212)]
FONT = "DejaVu Sans"
W, H = 2100, 1500
ML, MR, MT, MB = 92, 22, 51, 81
PW, PH = W - ML - MR, H - MT - MB


def rgba(c, a):
    return "rgba(%d,%d,%d,%s)" % (c[0], c[1], c[2], a)


def pxx(px):
    return (px - ML) / PW


def pxy(py):
    return (H - MB - py) / PH


fig = make_subplots(rows=3, cols=1, shared_xaxes=True, vertical_spacing=0.03)

giron_series = [
    (TIME, giron_u45, giron_u45_lo), (TIME, giron_u75, giron_u75_lo),
    (TIME_COARSE, giron_u105, giron_u105_lo), (TIME_COARSE, giron_u135, giron_u135_lo),
    (TIME_COARSE, giron_u165, giron_u165_lo), (TIME_COARSE, giron_u195, giron_u195_lo),
    (TIME_COARSE, giron_u225, giron_u225_lo), (TIME_COARSE, giron_u255, giron_u255_lo),
    (TIME_COARSE, giron_u285, giron_u285_lo)]
mont_series = [
    (TIME, mont_u45, mont_u45_lo), (TIME, mont_u75, mont_u75_lo), (TIME, mont_u105, mont_u105_lo),
    (TIME, mont_u135, mont_u135_lo), (TIME, mont_u165, mont_u165_lo), (TIME, mont_u195, mont_u195_lo),
    (TIME, mont_u225, mont_u225_lo), (TIME, mont_u255, mont_u255_lo), (TIME, mont_u285, mont_u285_lo)]

COL_OF = [0, 0, 0, 1, 1, 2, 2, 3, 3]


def add_prob_panel(row, series, legend_ids):
    for i, (xs, hi, lo) in enumerate(series):
        c = COLORS[i]
        fig.add_trace(go.Scatter(x=xs, y=hi, mode="lines", name=LINE_LABELS[i],
                                 line=dict(color=rgba(c, 0.88), width=2.2),
                                 legend=legend_ids[COL_OF[i]], legendrank=i + 1,
                                 hoverinfo="skip"),
                      row=row, col=1)
        fig.add_trace(go.Scatter(x=xs, y=lo, mode="lines", showlegend=False,
                                 line=dict(color=rgba(c, 0.6), width=1.3, dash="1.5px,2.5px"),
                                 fill="tonexty", fillcolor=rgba(c, 0.1), hoverinfo="skip"),
                      row=row, col=1)


add_prob_panel(1, giron_series, ["legend", "legend2", "legend3", "legend4"])
add_prob_panel(2, mont_series, ["legend5", "legend6", "legend7", "legend8"])

BLUE = (0, 0, 255)
RED = (255, 0, 0)
# bands
fig.add_trace(go.Scatter(x=TIME, y=pred_mont_hi, mode="lines", showlegend=False, hoverinfo="skip",
                         line=dict(color=rgba(BLUE, 0.12), width=1)), row=3, col=1)
fig.add_trace(go.Scatter(x=TIME, y=pred_mont_lo, mode="lines", showlegend=False, hoverinfo="skip",
                         line=dict(color=rgba(BLUE, 0.12), width=1),
                         fill="tonexty", fillcolor=rgba(BLUE, 0.13)), row=3, col=1)
fig.add_trace(go.Scatter(x=TIME, y=pred_giron_hi, mode="lines", showlegend=False, hoverinfo="skip",
                         line=dict(color=rgba(RED, 0.12), width=1)), row=3, col=1)
fig.add_trace(go.Scatter(x=TIME, y=pred_giron_lo, mode="lines", showlegend=False, hoverinfo="skip",
                         line=dict(color=rgba(RED, 0.12), width=1),
                         fill="tonexty", fillcolor=rgba(RED, 0.13)), row=3, col=1)
# truth
fig.add_trace(go.Scatter(x=truth_giron_t, y=truth_giron_v, mode="lines",
                         name="Truth RENE GIRON: 13", legend="legend9", legendrank=1,
                         line=dict(color=rgba(RED, 0.75), width=2.6), hoverinfo="skip"), row=3, col=1)
fig.add_trace(go.Scatter(x=truth_mont_t, y=truth_mont_v, mode="lines",
                         name="Truth MALIEK MONTGOMERY: 18", legend="legend9", legendrank=2,
                         line=dict(color=rgba(BLUE, 0.75), width=2.6), hoverinfo="skip"), row=3, col=1)
# predictions
fig.add_trace(go.Scatter(x=TIME, y=pred_giron, mode="lines",
                         name="Predicted RENE GIRON: 2.3", legend="legend9", legendrank=3,
                         line=dict(color=rgba(RED, 0.6), width=2.8, dash="3px,4.5px"),
                         hoverinfo="skip"), row=3, col=1)
fig.add_trace(go.Scatter(x=TIME, y=pred_mont, mode="lines",
                         name="Predicted MALIEK MONTGOMERY: 12.7", legend="legend9", legendrank=4,
                         line=dict(color=rgba(BLUE, 0.6), width=2.8, dash="3px,4.5px"),
                         hoverinfo="skip"), row=3, col=1)

# ------------------------------------------------------------------ axes
DOMAINS = {1: [pxy(511), pxy(51)], 2: [pxy(1039), pxy(578)], 3: [pxy(1419), pxy(1107)]}
axis_common = dict(showline=True, linecolor="#222222", linewidth=1.4, mirror=True,
                   ticks="outside", ticklen=6, tickwidth=1.3, tickcolor="#222222",
                   zeroline=False, tickfont=dict(family=FONT, size=13.5, color="#222222"))
for r in (1, 2, 3):
    fig.update_xaxes(range=[-51, 1071], tickvals=X_TICKS, showgrid=False,
                     showticklabels=(r == 3), row=r, col=1, **axis_common)
    if r < 3:
        fig.update_yaxes(range=[0, 1.15], tickvals=PROB_TICKS, tickformat=".2f",
                         showgrid=True, gridcolor="#e3e3e3", gridwidth=1,
                         domain=DOMAINS[r], row=r, col=1, **axis_common)
    else:
        fig.update_yaxes(range=[-1.82, 28.1], tickvals=COUNT_TICKS,
                         showgrid=True, gridcolor="#e3e3e3", gridwidth=1,
                         domain=DOMAINS[r], row=r, col=1, **axis_common)

# ------------------------------------------------------------------ round markers
shapes = []
annotations = []
yrefs = {1: "y", 2: "y2", 3: "y3"}
for r in (1, 2, 3):
    for k, rs in enumerate(ROUND_STARTS):
        shapes.append(dict(type="line", xref="x" if r == 1 else "x%d" % r,
                           yref=yrefs[r] + " domain", x0=rs, x1=rs, y0=0, y1=1,
                           line=dict(color="#7a7a7a", width=1, dash="1.5px,2.5px"), layer="below"))
        hidden = (r < 3 and k == 5) or (r == 3 and k == 0)
        annotations.append(dict(x=rs, y=(1.095 if r < 3 else 26.6), xref="x" if r == 1 else "x%d" % r,
                                yref=yrefs[r], text=ROUND_LABELS[k], showarrow=False,
                                xanchor="left", yanchor="middle", xshift=1,
                                font=dict(family=FONT, size=14.5,
                                          color="rgba(100,100,100,0.22)" if hidden else "#666666")))

# legend boxes
for (x0, x1, y0, y1) in [(1574, 2070, 117, 57), (1574, 2070, 646, 586), (100, 431, 1208, 1113)]:
    shapes.append(dict(type="rect", xref="paper", yref="paper",
                       x0=pxx(x0), x1=pxx(x1), y0=pxy(y0), y1=pxy(y1),
                       fillcolor="rgba(255,255,255,0.8)", line=dict(color="#cccccc", width=1),
                       layer="above"))

# titles and axis labels
annotations += [
    dict(text="RENE GIRON — Total Strikes Landed R8 Under Full Fight (Event 16264)",
         x=0.5, y=pxy(31), xref="paper", yref="paper", showarrow=False,
         xanchor="center", yanchor="middle", font=dict(family=FONT, size=20, color="#000000")),
    dict(text="MALIEK MONTGOMERY — Total Strikes Landed R8 Under Full Fight (Event 16264)",
         x=0.5, y=pxy(558), xref="paper", yref="paper", showarrow=False,
         xanchor="center", yanchor="middle", font=dict(family=FONT, size=20, color="#000000")),
    dict(text="Fight time (seconds)", x=0.5, y=pxy(1465), xref="paper", yref="paper",
         showarrow=False, xanchor="center", yanchor="middle",
         font=dict(family=FONT, size=20, color="#000000")),
    dict(text="Prob", x=pxx(28), y=pxy(281), xref="paper", yref="paper", textangle=-90,
         showarrow=False, xanchor="center", yanchor="middle",
         font=dict(family=FONT, size=13, color="#000000")),
    dict(text="Prob", x=pxx(28), y=pxy(808), xref="paper", yref="paper", textangle=-90,
         showarrow=False, xanchor="center", yanchor="middle",
         font=dict(family=FONT, size=13, color="#000000")),
    dict(text="Count", x=pxx(41), y=pxy(1263), xref="paper", yref="paper", textangle=-90,
         showarrow=False, xanchor="center", yanchor="middle",
         font=dict(family=FONT, size=15.5, color="#000000")),
]

legend_common = dict(bgcolor="rgba(0,0,0,0)", borderwidth=0, xanchor="left", yanchor="top",
                     orientation="v", tracegroupgap=0, traceorder="normal",
                     font=dict(family=FONT, size=12, color="#000000"))
col_px = [1573, 1700, 1828, 1957]
legend_layout = {}
for j in range(4):
    legend_layout["legend" if j == 0 else "legend%d" % (j + 1)] = dict(
        x=pxx(col_px[j]), y=pxy(53.5), **legend_common)
    legend_layout["legend%d" % (j + 5)] = dict(x=pxx(col_px[j]), y=pxy(582.5), **legend_common)
legend_layout["legend9"] = dict(bgcolor="rgba(0,0,0,0)", borderwidth=0, xanchor="left", yanchor="top",
                                orientation="v", traceorder="normal", tracegroupgap=0,
                                x=pxx(101), y=pxy(1111),
                                font=dict(family=FONT, size=14.3, color="#000000"))

fig.update_layout(width=W, height=H, margin=dict(l=ML, r=MR, t=MT, b=MB),
                  paper_bgcolor="white", plot_bgcolor="white",
                  font=dict(family=FONT, size=13, color="#000000"),
                  shapes=shapes, annotations=annotations, showlegend=True,
                  **legend_layout)

fig.write_html("out.html")
